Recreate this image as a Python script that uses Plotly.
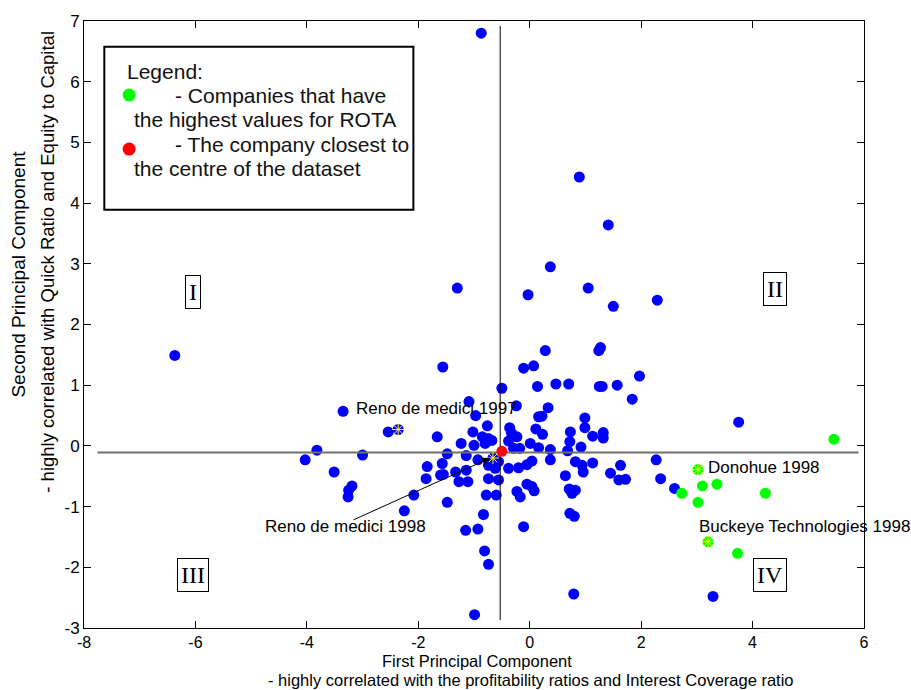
import plotly.graph_objects as go

# ---------------- data ----------------
blue_x = [-0.87, 0.89, 1.41, 0.37, -1.30, -0.03, 1.05, 1.50, 2.29, -6.37, 3.75, 3.29, 0.79, -0.99,
          -3.35, -2.54, -3.82, -4.03, -3.00, -3.51, -3.19, -3.25, -3.26, -2.08, -2.25,
          0.28, 1.24, 1.27, -1.56, -0.11, 0.07, 1.97, -0.50, 0.14, 0.47, 0.70, 1.25, 1.30, 1.57, 1.84,
          -1.09, -0.97, -0.24, 0.33, 0.16, 0.22, 0.99, 0.99, -1.66, -1.02, -0.76, -0.85, -0.74, -0.80,
          -0.68, -1.00, -1.23, -1.48, -1.14, -0.36, -0.33, -0.23, -0.38, 0.11, 0.23, 0.73, 0.72, 1.13,
          1.32, 1.32, 0.92, 0.01, 0.16, 0.37, -0.29, -0.18, 0.68, -1.84, -1.57, -1.55, -1.86, -1.60,
          -1.33, -1.27, -1.11, -1.14, -0.93, -0.74, -0.56, -0.62, -0.38, -0.20, -0.05, 0.04, 0.37,
          0.82, 0.94, 1.13, 0.96, 0.64, 1.45, 1.63, 1.60, 1.72, -0.74, -0.56, -0.78, -0.60, -0.23,
          -0.17, -0.05, 0.04, 0.08, 0.71, 0.82, 0.76, -1.48, -0.83, 0.72, 0.80, -1.15, -0.93, -0.81,
          -0.74, -0.11, 2.27, 2.35, 2.60, -2.36, -0.66]
blue_y = [6.80, 4.43, 3.64, 2.95, 2.60, 2.49, 2.60, 2.30, 2.40, 1.49, 0.39, -2.48, -2.44, -2.78,
          0.57, 0.23, -0.07, -0.23, -0.15, -0.43, -0.66, -0.73, -0.84, -0.81, -1.07,
          1.57, 1.57, 1.62, 1.30, 1.28, 1.32, 1.15, 0.95, 0.98, 1.02, 1.02, 0.98, 0.98, 1.00, 0.77,
          0.73, 0.50, 0.66, 0.63, 0.48, 0.49, 0.46, 0.30, 0.15, 0.23, 0.33, 0.15, 0.12, 0.04,
          0.09, 0.01, 0.04, -0.13, -0.16, 0.30, 0.22, 0.15, 0.08, 0.28, 0.19, 0.23, 0.07, 0.16,
          0.22, 0.13, -0.02, 0.04, -0.03, -0.06, -0.04, -0.04, -0.08, -0.34, -0.29, -0.47, -0.54, -0.48,
          -0.43, -0.59, -0.59, -0.40, -0.23, -0.32, -0.26, -0.37, -0.37, -0.36, -0.31, -0.25, -0.23,
          -0.26, -0.32, -0.28, -0.43, -0.49, -0.45, -0.32, -0.56, -0.55, -0.54, -0.56, -0.81, -0.81, -0.75,
          -0.84, -0.63, -0.67, -0.74, -0.71, -0.73, -0.78, -0.93, -1.13, -1.11, -1.16, -1.39, -1.37, -1.73,
          -1.95, -1.33, -0.23, -0.54, -0.70, 0.27, -0.20]

green_x = [5.46, 3.02, 3.10, 3.36, 2.73, 4.23, 3.02, 3.20, 3.73]
green_y = [0.11, -0.39, -0.66, -0.63, -0.78, -0.78, -0.93, -1.58, -1.77]

centre_x = [-0.50]
centre_y = [-0.09]

star_names = ["Reno de medici 1997", "Reno de medici 1998", "Donohue 1998", "Buckeye Technologies 1998"]
star_x = [-2.36, -0.66, 3.02, 3.20]
star_y = [0.27, -0.20, -0.39, -1.58]

hline_x = [-7.76, 5.90]
hline_y = [-0.11, -0.11]
vline_x = [-0.53, -0.53]
vline_y = [-2.87, 6.92]

quad_labels = ["I", "II", "III", "IV"]
quad_x = [-6.04, 4.40, -6.04, 4.32]
quad_y = [2.54, 2.59, -2.13, -2.13]

x_ticks = [-8, -6, -4, -2, 0, 2, 4, 6]
x_ticktext = ["-8", "-6", "-4", "-2", "0", "2", "4", "6"]
y_ticks = [-3, -2, -1, 0, 1, 2, 3, 4, 5, 6, 7]
y_ticktext = ["-3", "-2", "-1", "0", "1", "2", "3", "4", "5", "6", "7"]

FONT = "Liberation Sans, Arial, sans-serif"

fig = go.Figure()
fig.add_trace(go.Scatter(x=blue_x, y=blue_y, mode="markers",
                         marker=dict(color="#0000ff", size=11, line=dict(width=0)), showlegend=False))
fig.add_trace(go.Scatter(x=hline_x, y=hline_y, mode="lines",
                         line=dict(color="#707070", width=2), showlegend=False))
fig.add_trace(go.Scatter(x=vline_x, y=vline_y, mode="lines",
                         line=dict(color="#000000", width=1), showlegend=False))
fig.add_trace(go.Scatter(x=green_x, y=green_y, mode="markers",
                         marker=dict(color="#00ff00", size=11, line=dict(width=0)), showlegend=False))
fig.add_trace(go.Scatter(x=centre_x, y=centre_y, mode="markers",
                         marker=dict(color="#ff0000", size=11, line=dict(width=0)), showlegend=False))
fig.add_trace(go.Scatter(x=star_x, y=star_y, mode="markers",
                         marker=dict(symbol="asterisk-open", color="#ffff00", size=10,
                                     line=dict(color="#ffff00", width=1)), showlegend=False))
# legend markers
fig.add_trace(go.Scatter(x=[-7.19, -7.19], y=[5.78, 4.89], mode="markers", cliponaxis=False,
                         marker=dict(color=["#00ff00", "#ff0000"], size=13, line=dict(width=0)),
                         showlegend=False))

ann = []
# star labels
ann.append(dict(x=-3.15, y=0.61, xref="x", yref="y", text=star_names[0], showarrow=False,
                xanchor="left", yanchor="middle", font=dict(size=17, color="black", family=FONT)))
ann.append(dict(x=-4.78, y=-1.33, xref="x", yref="y", text=star_names[1], showarrow=False,
                xanchor="left", yanchor="middle", font=dict(size=17, color="black", family=FONT)))
ann.append(dict(x=3.17, y=-0.36, xref="x", yref="y", text=star_names[2], showarrow=False,
                xanchor="left", yanchor="middle", font=dict(size=17, color="black", family=FONT)))
ann.append(dict(x=3.00, y=-1.32, xref="x", yref="y", text=star_names[3], showarrow=False,
                xanchor="left", yanchor="middle", font=dict(size=17, color="black", family=FONT)))
# arrow
ann.append(dict(x=star_x[1] - 0.05, y=star_y[1], ax=-3.19, ay=-1.23, xref="x", yref="y",
                axref="x", ayref="y", text="", showarrow=True, arrowhead=2, arrowsize=1.6,
                arrowwidth=1, arrowcolor="black"))
# quadrant labels
for t, qx, qy in zip(quad_labels, quad_x, quad_y):
    ann.append(dict(x=qx, y=qy, xref="x", yref="y", text=t, showarrow=False,
                    font=dict(size=24, color="black", family="Liberation Serif, Times New Roman, serif"),
                    bordercolor="black", borderwidth=1, borderpad=3, bgcolor="white"))
# legend texts
leg_lines = [("Legend:", 125, 68), ("- Companies that have", 173, 92), ("the highest values for ROTA", 132, 116),
             ("- The company closest to", 173, 141), ("the centre of the dataset", 132, 165)]
for t, px, py in leg_lines:
    ann.append(dict(x=(px - 83.7) / 779.8, y=1 - (py - 17) / 611, xref="paper", yref="paper", text=t,
                    showarrow=False, xanchor="left", yanchor="middle",
                    font=dict(size=21, color="#111111", family=FONT)))
# axis titles
ann.append(dict(x=(477 - 83.7) / 779.8, y=1 - (661 - 17) / 611, xref="paper", yref="paper",
                text="First Principal Component", showarrow=False, xanchor="center", yanchor="middle",
                font=dict(size=16.5, color="black", family=FONT)))
ann.append(dict(x=(531 - 83.7) / 779.8, y=1 - (680 - 17) / 611, xref="paper", yref="paper",
                text="- highly correlated with the profitability ratios and Interest Coverage ratio",
                showarrow=False, xanchor="center", yanchor="middle",
                font=dict(size=16.5, color="black", family=FONT)))
ann.append(dict(x=(18 - 83.7) / 779.8, y=1 - (272 - 17) / 611, xref="paper", yref="paper",
                text="Second Principal Component", showarrow=False, textangle=-90,
                xanchor="center", yanchor="middle", font=dict(size=19, color="black", family=FONT)))
ann.append(dict(x=(47 - 83.7) / 779.8, y=1 - (259 - 17) / 611, xref="paper", yref="paper",
                text="- highly correlated with Quick Ratio and Equity to Capital", showarrow=False,
                textangle=-90, xanchor="center", yanchor="middle",
                font=dict(size=18.5, color="black", family=FONT)))

shapes = [dict(type="rect", xref="paper", yref="paper",
               x0=(104 - 83.7) / 779.8, x1=(413 - 83.7) / 779.8,
               y0=1 - (207 - 17) / 611, y1=1 - (43 - 17) / 611,
               line=dict(color="black", width=2), fillcolor="rgba(255,255,255,0)", layer="below")]

fig.update_layout(
    width=911, height=690, margin=dict(l=84, r=47, t=17, b=62),
    paper_bgcolor="white", plot_bgcolor="white",
    annotations=ann, shapes=shapes, showlegend=False,
    font=dict(family=FONT, color="black"),
)
fig.update_xaxes(range=[-8, 6], tickvals=x_ticks, ticktext=x_ticktext, ticks="inside", ticklen=7,
                 tickcolor="black", showline=True, linecolor="black", linewidth=1, mirror="ticks",
                 showgrid=False, zeroline=False, tickfont=dict(size=16, color="black", family=FONT))
fig.update_yaxes(range=[-3, 7], tickvals=y_ticks, ticktext=y_ticktext, ticks="inside", ticklen=7,
                 tickcolor="black", showline=True, linecolor="black", linewidth=1, mirror="ticks",
                 showgrid=False, zeroline=False, tickfont=dict(size=17, color="black", family=FONT))

fig.write_html("out.html")
